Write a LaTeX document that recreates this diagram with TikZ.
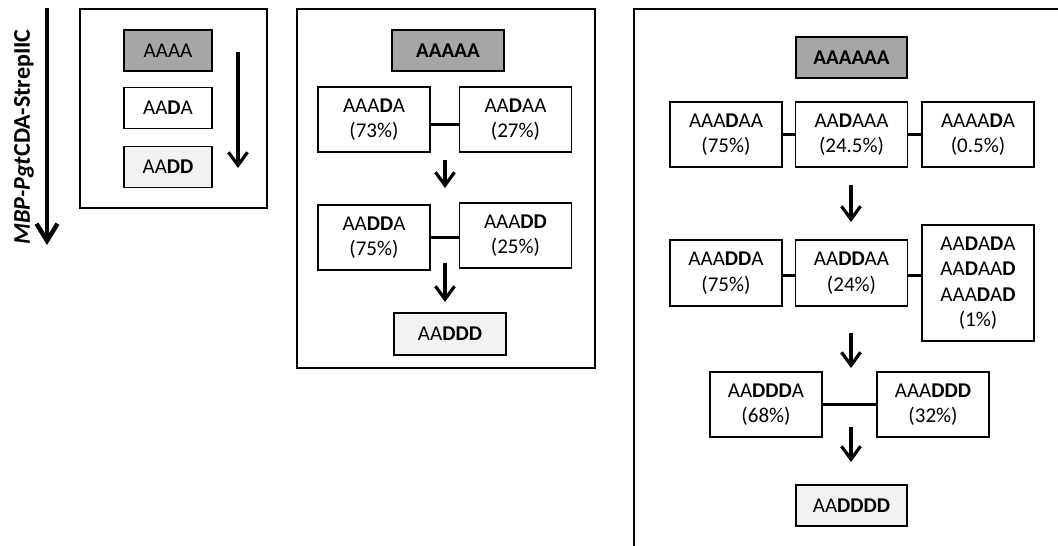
\documentclass[tikz,border=0pt]{standalone}
\usepackage{fontspec}
\setmainfont{Carlito}
\usetikzlibrary{arrows.meta}
\newcommand{\bd}[1]{\textbf{#1}}
\definecolor{startgray}{HTML}{A6A6A6}
\definecolor{endgray}{HTML}{F2F2F2}
\begin{document}
\begin{tikzpicture}[x=1pt,y=-1pt,
  panel/.style={draw, line width=2pt},
  box/.style={draw, line width=1.5pt, minimum width=112pt, minimum height=65pt,
    inner sep=0pt, align=center, font=\fontsize{21}{25.5}\selectfont},
  single/.style={box, minimum height=41pt},
  startbox/.style={single, fill=startgray},
  endbox/.style={single, fill=endgray},
  link/.style={line width=3pt},
  stepflow/.style={line width=3.2pt, -{Straight Barb[length=13pt,width=19pt]}},
  bigflow/.style={line width=4.5pt, -{Straight Barb[length=17pt,width=21pt]}}
]
\useasboundingbox (0,0) rectangle (1058,546);
\clip (0,0) rectangle (1058,546);

% side label and overall direction
\node[rotate=90, inner sep=0pt, font=\bfseries\fontsize{24}{30}\selectfont] (lab) at (24,137) {\textit{MBP-Pgt}CDA-StrepIIC};
\coordinate (bigA) at (47,8);
\coordinate (bigB) at (47,245);
\draw[bigflow] (bigA) -- (bigB);

% ---------- tetramer ----------
\draw[panel] (80,9) rectangle (267,208);
\node[startbox, minimum width=88pt] (t1) at (168,50.5) {AAAA};
\node[single, minimum width=88pt] (t2) at (168,108) {AA\bd{D}A};
\node[endbox, minimum width=88pt] (t3) at (168,167) {AA\bd{DD}};
\coordinate (tA) at (238,52);
\coordinate (tB) at (238,168);
\draw[stepflow] (tA) -- (tB);

% ---------- pentamer ----------
\draw[panel] (297,9) rectangle (595,368);
\node[startbox] (p0) at (448,50.5) {\bd{AAAAA}};
\node[box] (p1a) at (374,119.5) {AAA\bd{D}A\\(73\%)};
\node[box] (p1b) at (515.5,119.5) {AA\bd{D}AA\\(27\%)};
\draw[link] ([yshift=-5pt]p1a.east) -- ([yshift=-5pt]p1b.west);
\coordinate (pA1) at (445,160);
\coordinate (pB1) at (445,188);
\draw[stepflow] (pA1) -- (pB1);
\node[box] (p2a) at (374,237.5) {AA\bd{DD}A\\(75\%)};
\node[box] (p2b) at (515.5,235.5) {AAA\bd{DD}\\(25\%)};
\draw[link] (p2a.east) -- (p2a.east -| p2b.west);
\coordinate (pA2) at (445,263);
\coordinate (pB2) at (445,302);
\draw[stepflow] (pA2) -- (pB2);
\node[endbox, minimum height=42pt] (p3) at (450,334) {AA\bd{DDD}};

% ---------- hexamer ----------
\draw[panel] (634,9) rectangle (1080,580);
\node[startbox, minimum width=111pt] (h0) at (851.5,57.5) {\bd{AAAAAA}};
\node[box] (h1a) at (726,134.5) {AAA\bd{D}AA\\(75\%)};
\node[box] (h1b) at (851.5,134.5) {AA\bd{D}AAA\\(24.5\%)};
\node[box] (h1c) at (978,134.5) {AAAA\bd{D}A\\(0.5\%)};
\draw[link] (h1a) -- (h1b);
\draw[link] (h1b) -- (h1c);
\coordinate (hA1) at (851,185);
\coordinate (hB1) at (851,222);
\draw[stepflow] (hA1) -- (hB1);
\node[box, minimum height=66pt] (h2a) at (726,273) {AAA\bd{DD}A\\(75\%)};
\node[box, minimum height=66pt] (h2b) at (851.5,273) {AA\bd{DD}AA\\(24\%)};
\node[box, minimum height=116pt] (h2c) at (978,283) {AA\bd{D}A\bd{D}A\\AA\bd{D}AA\bd{D}\\AAA\bd{D}A\bd{D}\\(1\%)};
\draw[link] ([yshift=-2pt]h2a.east) -- ([yshift=-2pt]h2a.east -| h2b.west);
\draw[link] ([yshift=-2pt]h2b.east) -- ([yshift=-2pt]h2b.east -| h2c.west);
\coordinate (hA2) at (851,333);
\coordinate (hB2) at (851,368);
\draw[stepflow] (hA2) -- (hB2);
\node[box] (h3a) at (766,404.5) {AA\bd{DDD}A\\(68\%)};
\node[box] (h3b) at (933,404.5) {AAA\bd{DDD}\\(32\%)};
\draw[link] (h3a) -- (h3b);
\coordinate (hA3) at (851,427);
\coordinate (hB3) at (851,462);
\draw[stepflow] (hA3) -- (hB3);
\node[endbox, minimum width=111pt] (h4) at (851.5,505.5) {AA\bd{DDDD}};
\end{tikzpicture}
\end{document}
